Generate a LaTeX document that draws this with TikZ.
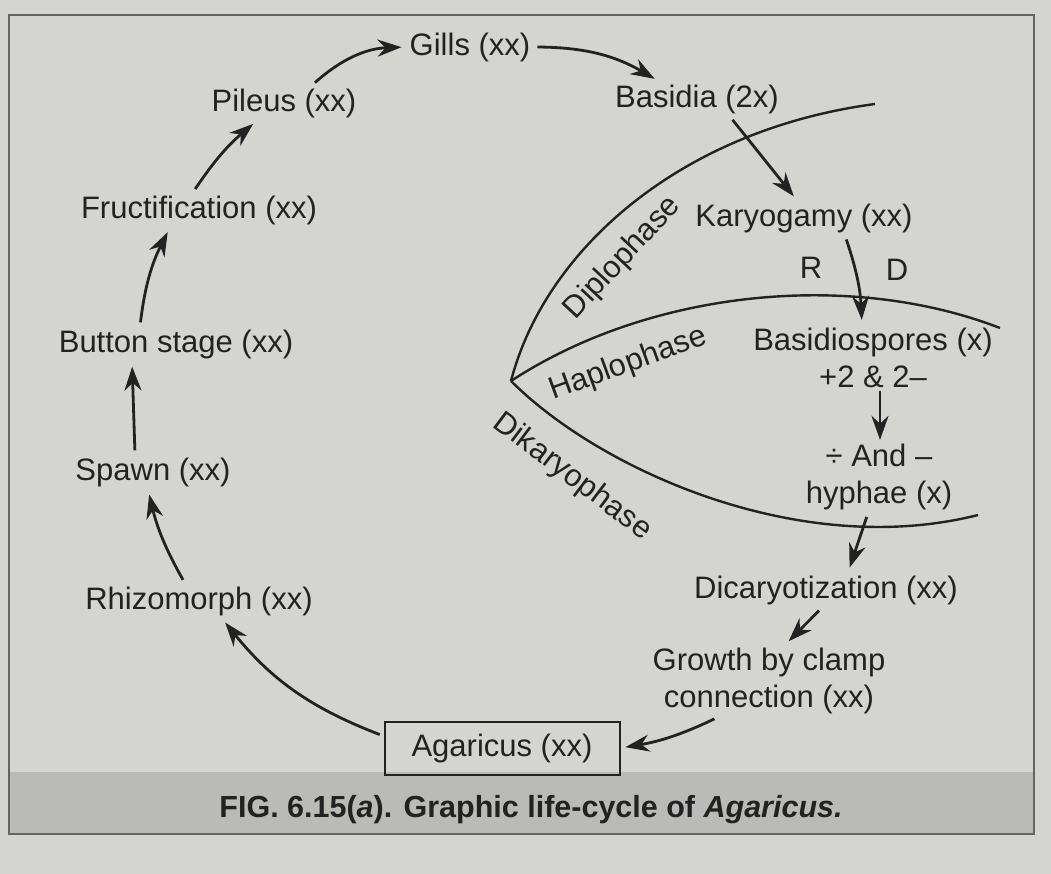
\documentclass[tikz,border=0pt]{standalone}
\usepackage{fontspec}
\setmainfont{Liberation Sans}
\usetikzlibrary{arrows.meta,positioning}
\definecolor{paper}{RGB}{212,212,208}
\definecolor{band}{RGB}{186,186,182}
\definecolor{ink}{RGB}{34,34,34}

\begin{document}
\begin{tikzpicture}[>=Stealth, x=1pt, y=-1pt,
    every node/.style={text=ink, font=\fontsize{31}{37}\selectfont, inner sep=3pt},
    arr/.style={->, draw=ink, line width=2.8pt, shorten >=5pt, shorten <=4pt,
        >={Stealth[length=24pt,width=17pt]}},
    phase/.style={draw=ink, line width=2.4pt}]
    % page and caption band
    \fill[paper] (0,0) rectangle (1051,874);
    \fill[band] (9,772) rectangle (1034,834);
    \draw[ink!70, line width=1.5pt] (9,15) rectangle (1034,834);
    \useasboundingbox (0,0) rectangle (1051,874);

    \node (G) at (470,47) {Gills (xx)};
    \node (B) at (697,99) {Basidia (2x)};
    \node (P) at (284,103) {Pileus (xx)};
    \node (F) at (199,210) {Fructification (xx)};
    \node (Bt) at (176,344) {Button stage (xx)};
    \node (S) at (153,472) {Spawn (xx)};
    \node (Rh) at (199,601) {Rhizomorph (xx)};
    \node[draw=ink, line width=2pt, minimum width=235pt, minimum height=53pt] (A) at (502,748) {Agaricus (xx)};

    \node (K) at (804,218) {Karyogamy (xx)};
    \node (R) at (811,268) {R};
    \node (D) at (897,270) {D};
    \node[align=center] (Bp) at (873,358) {Basidiospores (x)\\+2 \& 2–};
    \node[align=center] (H) at (879,477) {÷ And –\\hyphae (x)};
    \node (Dc) at (826,590) {Dicaryotization (xx)};
    \node[align=center] (Gr) at (769,681) {Growth by clamp\\connection (xx)};

    \node[font=\bfseries\fontsize{30.5}{36}\selectfont] (cap) at (531,810)
        {FIG. 6.15(\textit{a}). Graphic life-cycle of \textit{Agaricus.}};

    % phases
    \coordinate (O) at (511,381);
    \draw[phase] (O) .. controls (545,250) and (680,130) .. (875,104);
    \draw[phase] (O) .. controls (650,290) and (850,270) .. (1000,328);
    \draw[phase] (O) .. controls (600,470) and (800,560) .. (978,515);
    \node[rotate=47] (dip) at (623,258) {Diplophase};
    \node[rotate=20] (hap) at (628,364) {Haplophase};
    \node[rotate=-37] (dik) at (572,477) {Dikaryophase};

    % cycle
    \draw[arr] ([xshift=28pt]P.north) to[bend left=20] (G.west);
    \draw[arr] (G.east) to[bend left=15] ([xshift=-38pt]B.north);
    \draw[arr] ([xshift=-6pt]F.north) to[bend left=8] ([xshift=-27pt]P.south);
    \draw[arr] ([xshift=-36pt]Bt.north) to[bend left=10] ([xshift=-29pt]F.south);
    \draw[arr] ([xshift=-18pt]S.north) -- ([xshift=-44pt]Bt.south);
    \draw[arr] ([xshift=-14pt]Rh.north) to[bend left=8] ([xshift=-5pt]S.south);
    \draw[arr] ([yshift=12pt]A.west) to[bend left=15] ([xshift=23pt]Rh.south);

    \draw[arr] ([xshift=33pt]B.south) -- ([xshift=-7pt]K.north);
    \draw[arr] ([xshift=41pt]K.south) to[bend left=8] ([xshift=-11pt]Bp.north);
    \draw[arr, shorten <=0pt, shorten >=1pt] ([xshift=7pt]Bp.south) -- ([xshift=1pt]H.north);
    \draw[arr] ([xshift=-11pt]H.south) -- ([xshift=22pt]Dc.north);
    \draw[arr] ([xshift=-4pt]Dc.south) -- ([xshift=16pt]Gr.north);
    \draw[arr] ([xshift=-51pt]Gr.south) to[bend left=8] (A.east);
\end{tikzpicture}
\end{document}
